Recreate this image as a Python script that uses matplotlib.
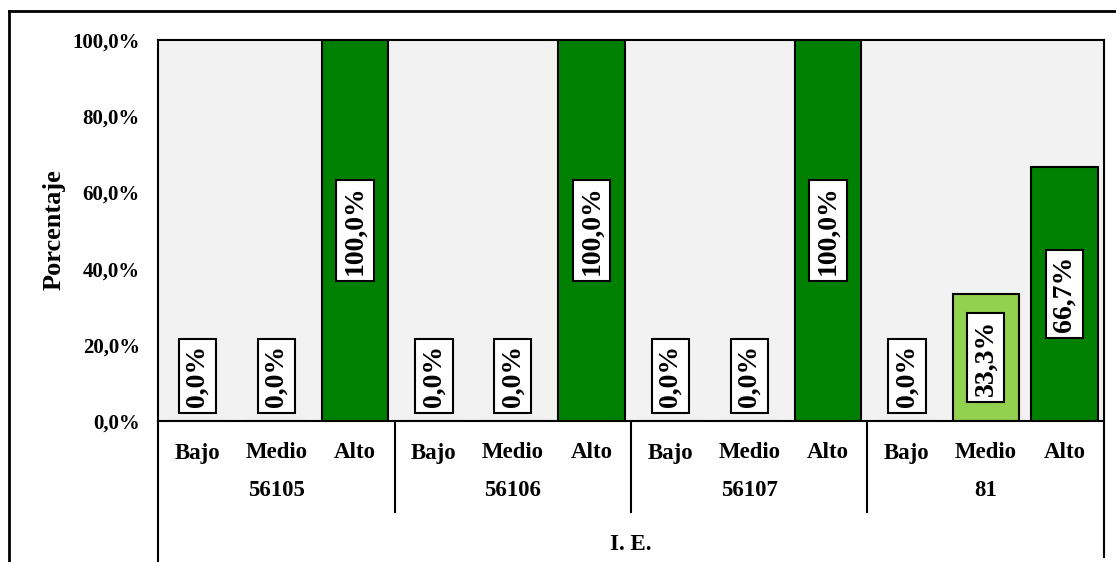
import matplotlib
matplotlib.use("Agg")
import matplotlib.pyplot as plt
from matplotlib.transforms import blended_transform_factory
from matplotlib.lines import Line2D

plt.rcParams['font.family'] = ['Liberation Serif', 'DejaVu Serif']
plt.rcParams['font.weight'] = 'bold'

groups = ["56105", "56106", "56107", "81"]
levels = ["Bajo", "Medio", "Alto"]
values = [
    [0.0, 0.0, 100.0],
    [0.0, 0.0, 100.0],
    [0.0, 0.0, 100.0],
    [0.0, 33.3, 66.7],
]
yticks = [0, 20, 40, 60, 80, 100]
ylabel = "Porcentaje"
xlabel = "I. E."

DARK = "#008000"
LIGHT = "#92D050"
bar_colors = [
    [DARK, DARK, DARK],
    [DARK, DARK, DARK],
    [DARK, DARK, DARK],
    [DARK, LIGHT, DARK],
]

W, H = 1116, 562
fig = plt.figure(figsize=(W / 100, H / 100), dpi=100)
fig.patch.set_facecolor("white")

L, R, T, B = 158, 1104, 40, 421
ax = fig.add_axes([L / W, (H - B) / H, (R - L) / W, (B - T) / H])
ax.set_facecolor("#F2F2F2")

xs, vals, cols, labs = [], [], [], []
i = 0
for g, gv in enumerate(values):
    for k, v in enumerate(gv):
        xs.append(i)
        vals.append(v)
        cols.append(bar_colors[g][k])
        labs.append(levels[k])
        i += 1

ax.bar(xs, vals, width=0.84, color=cols, edgecolor="black", linewidth=1.5, zorder=2)

ax.set_xlim(-0.5, len(xs) - 0.5)
ax.set_ylim(0, 100)
ax.set_yticks(yticks)
ax.set_yticklabels([f"{t:.1f}".replace(".", ",") + "%" for t in yticks], fontsize=15, fontweight="bold")
ax.tick_params(axis="y", length=0, pad=13)
ax.set_xticks([])
for s in ax.spines.values():
    s.set_linewidth(1.5)
    s.set_color("black")

# data labels
LFS = 20
for x, v in zip(xs, vals):
    txt = f"{v:.1f}".replace(".", ",") + "%"
    bbox = dict(boxstyle="square,pad=0.22", facecolor="white", edgecolor="black", linewidth=1.5)
    if v > 0:
        ax.text(x, v / 2, txt, rotation=90, ha="center", va="center", fontsize=LFS,
                fontweight="bold", bbox=bbox, zorder=4)
    else:
        ax.annotate(txt, (x, 0), xytext=(0, 10), textcoords="offset points", rotation=90,
                    ha="center", va="bottom", fontsize=LFS, fontweight="bold", bbox=bbox, zorder=4)

tr = blended_transform_factory(ax.transData, ax.transAxes)
ph = B - T
def ay(py):
    return (B - py) / ph

for x, lab in zip(xs, labs):
    ax.text(x, ay(453), lab, transform=tr, ha="center", va="center", fontsize=16.5, fontweight="bold")
for g, name in enumerate(groups):
    ax.text(g * 3 + 1, ay(491), name, transform=tr, ha="center", va="center", fontsize=16.5, fontweight="bold")
ax.text(0.5, ay(545), xlabel, transform=ax.transAxes, ha="center", va="center", fontsize=16.5, fontweight="bold")

for xb in [2.5, 5.5, 8.5]:
    ax.add_line(Line2D([xb, xb], [0, ay(512)], transform=tr, color="black", linewidth=1.5, clip_on=False))
ax.add_line(Line2D([-0.5, -0.5], [0, ay(565)], transform=tr, color="black", linewidth=1.5, clip_on=False))
ax.add_line(Line2D([11.5, 11.5], [0, ay(557)], transform=tr, color="black", linewidth=1.5, clip_on=False))

fig.text(54 / W, 1 - 230 / H, ylabel, rotation=90, ha="center", va="center", fontsize=19, fontweight="bold")

# outer chart border (cropped)
fig.add_artist(Line2D([9 / W, 1.0], [1 - 11 / H, 1 - 11 / H], transform=fig.transFigure, color="black", linewidth=2))
fig.add_artist(Line2D([9 / W, 9 / W], [0, 1 - 11 / H], transform=fig.transFigure, color="black", linewidth=2))

fig.savefig("out.png", dpi=100)
